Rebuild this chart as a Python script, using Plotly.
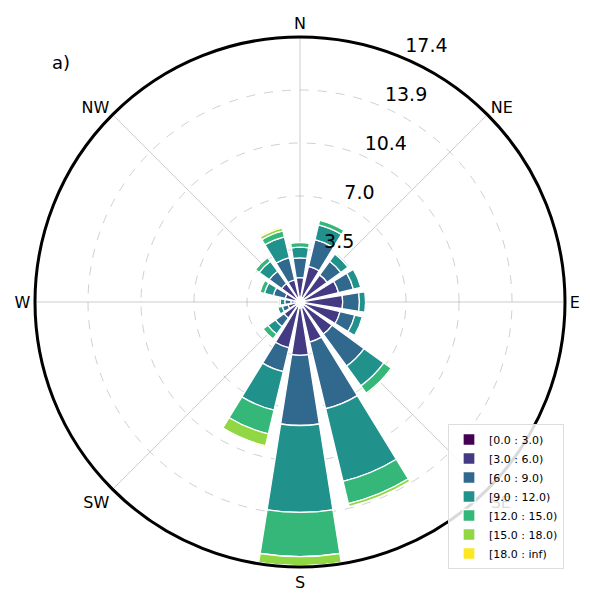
import plotly.graph_objects as go

directions = [0, 22.5, 45, 67.5, 90, 112.5, 135, 157.5, 180, 202.5, 225, 247.5, 270, 292.5, 315, 337.5]
bin_labels = ["[0.0 : 3.0)", "[3.0 : 6.0)", "[6.0 : 9.0)", "[9.0 : 12.0)",
              "[12.0 : 15.0)", "[15.0 : 18.0)", "[18.0 : inf)"]
bin_colors = ["#440154", "#443983", "#31688e", "#21918c", "#35b779", "#90d743", "#fde725"]

# frequency (%) per speed bin, one list per bin, ordered like `directions`
bin_0_3   = [0.3, 0.3, 0.3, 0.3, 0.3, 0.3, 0.3, 0.4, 0.4, 0.3, 0.3, 0.2, 0.2, 0.2, 0.2, 0.3]
bin_3_6   = [1.3, 2.1, 1.9, 2.3, 2.5, 2.4, 2.3, 2.3, 3.1, 2.8, 1.0, 0.6, 0.4, 0.8, 1.3, 1.2]
bin_6_9   = [1.3, 1.8, 1.1, 1.0, 1.1, 1.0, 2.6, 4.5, 4.6, 1.6, 0.7, 0.4, 0.4, 0.8, 1.0, 1.5]
bin_9_12  = [0.7, 1.0, 0.6, 0.5, 0.4, 0.5, 1.6, 4.9, 5.7, 2.6, 0.6, 0.3, 0.3, 0.6, 0.8, 1.4]
bin_12_15 = [0.3, 0.3, 0.1, 0.0, 0.0, 0.0, 0.6, 1.5, 2.9, 1.6, 0.4, 0.0, 0.1, 0.3, 0.3, 0.4]
bin_15_18 = [0.0, 0.0, 0.0, 0.0, 0.0, 0.0, 0.1, 0.2, 0.6, 0.8, 0.0, 0.0, 0.0, 0.0, 0.0, 0.2]
bin_18_inf = [0.0, 0.0, 0.0, 0.0, 0.0, 0.0, 0.0, 0.0, 0.08, 0.1, 0.0, 0.0, 0.0, 0.0, 0.0, 0.1]

bins = [bin_0_3, bin_3_6, bin_6_9, bin_9_12, bin_12_15, bin_15_18, bin_18_inf]

r_max = 17.38
radial_ticks = [3.476, 6.952, 10.428, 13.904, 17.38]
radial_ticktext = ["3.5", "7.0", "10.4", "13.9", "17.4"]
radial_label_direction = 22.5
compass_vals = [0, 45, 90, 135, 180, 225, 270, 315]
compass_text = ["N", "NE", "E", "SE", "S", "SW", "W", "NW"]

fig = go.Figure()
for vals, name, col in zip(bins, bin_labels, bin_colors):
    fig.add_trace(go.Barpolar(
        r=vals, theta=directions, width=18, name=name,
        marker=dict(color=col, line=dict(color="white", width=1.3)),
    ))

# radial tick labels placed like matplotlib's rlabels (left/bottom anchored at 22.5 deg)
fig.add_trace(go.Scatterpolar(
    r=radial_ticks, theta=[radial_label_direction] * len(radial_ticks),
    mode="text", text=["&#8201;" + t for t in radial_ticktext], textposition="top right",
    textfont=dict(size=19, family="DejaVu Sans", color="black"),
    showlegend=False, hoverinfo="skip", cliponaxis=False,
))

W, H = 590, 594
font_family = "DejaVu Sans"
# page has an 8px body margin: figure pixel = page pixel - 8
cx, cy, rad = 292, 294, 265
fig.update_layout(
    width=W, height=H,
    margin=dict(l=0, r=0, t=0, b=0),
    paper_bgcolor="white",
    font=dict(family=font_family, color="black"),
    polar=dict(
        domain=dict(x=[(cx - rad) / W, (cx + rad) / W],
                    y=[(H - cy - rad) / H, (H - cy + rad) / H]),
        bgcolor="white",
        barmode="stack",
        angularaxis=dict(
            rotation=90, direction="clockwise",
            tickmode="array", tickvals=compass_vals, ticktext=compass_text,
            tickfont=dict(size=16, family=font_family),
            ticks="", showline=True, linecolor="black", linewidth=3,
            showgrid=True, gridcolor="rgba(170,170,170,0.6)", gridwidth=1,
            layer="above traces",
        ),
        radialaxis=dict(
            range=[0, r_max], angle=67.5,
            tickmode="array", tickvals=radial_ticks, ticktext=radial_ticktext,
            showticklabels=False,
            ticks="", showline=False,
            showgrid=True, gridcolor="rgba(170,170,170,0.55)", gridwidth=1, griddash="dash",
            layer="above traces",
        ),
    ),
    legend=dict(
        x=440 / W, y=33 / H, xanchor="left", yanchor="bottom",
        bgcolor="rgba(255,255,255,0.85)", bordercolor="#dddddd", borderwidth=1,
        font=dict(size=11, family=font_family), tracegroupgap=0,
    ),
    showlegend=True,
)
fig.add_annotation(text="a)", x=42 / W, y=1 - 54 / H, xref="paper", yref="paper",
                   showarrow=False, xanchor="left", yanchor="middle",
                   font=dict(size=18, family=font_family))

fig.write_html("out.html")
